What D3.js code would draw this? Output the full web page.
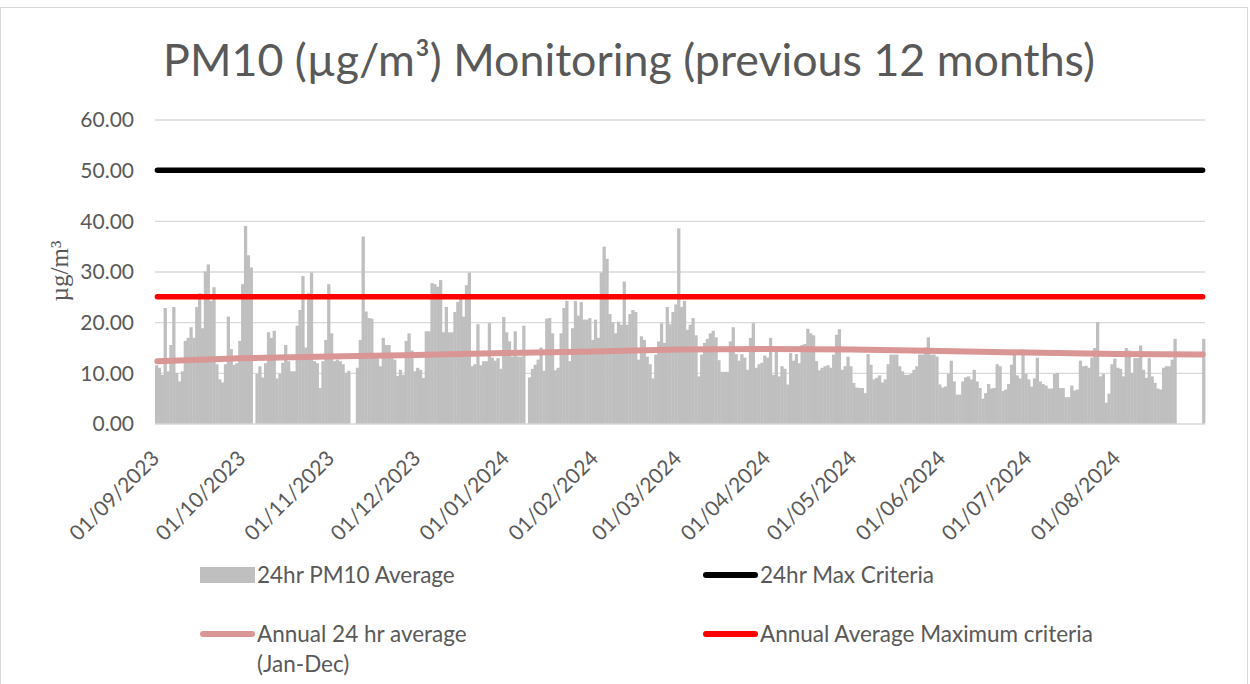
<!DOCTYPE html>
<html>
<head>
<meta charset="utf-8">
<script src="https://cdn.jsdelivr.net/npm/d3@7"></script>
<style>
  body { margin: 0; background: #fff; }
  svg { display: block; font-family: Lato, "Open Sans", sans-serif; }
  .grid line { stroke: #d9d9d9; stroke-width: 1.3; }
  .axis text { fill: #595959; font-size: 21px; font-family: Lato, sans-serif; }
  .legend text { fill: #595959; font-size: 22.5px; }
</style>
</head>
<body>
<div id="chart"></div>
<script>
// daily 24hr PM10 averages, one array per month (null = no reading)
var pm10Sep2023 = [11.5, 11.0, 9.6, 22.8, 10.3, 15.5, 23.0, 10.0, 8.3, 10.3,
  16.3, 16.9, 19.0, 16.9, 23.0, 25.7, 18.8, 30.0, 31.4, 24.2,
  26.9, 11.7, 8.7, 8.1, 11.7, 21.1, 14.7, 11.6, 11.9, 16.3];
var pm10Oct2023 = [27.5, 39.0, 33.2, 30.8, null, 9.8, 11.3, 9.1, 11.9, 18.0,
  16.9, 18.3, 8.9, 9.8, 12.0, 15.5, 12.3, 10.3, 10.3, 19.3,
  22.4, 29.1, 15.0, 25.7, 29.8, 12.3, 11.9, 7.0, 12.3, 16.5, 27.5];
var pm10Nov2023 = [17.8, 12.3, 12.6, 12.3, 11.7, 10.0, 10.4, null, null, 11.0,
  16.5, 36.9, 22.1, 20.8, 20.7, 13.6, 12.9, 11.3, 16.9, 15.5,
  15.5, 12.9, 12.6, 9.4, 10.6, 9.6, 16.3, 17.8, 14.4, 10.3];
var pm10Dec2023 = [11.0, 10.6, 9.0, 18.2, 18.2, 27.7, 27.5, 27.0, 28.3, 18.0,
  23.0, 18.0, 18.0, 22.0, 24.0, 25.5, 21.1, 27.3, 29.8, 11.3,
  11.7, 19.6, 11.5, 12.3, 12.3, 19.8, 13.0, 12.4, 12.9, 10.8, 21.0];
var pm10Jan2024 = [18.0, 16.2, 13.2, 18.2, 13.2, 13.2, 19.3, null, 9.1, 10.8,
  11.6, 12.6, 15.0, 10.4, 20.7, 20.8, 17.8, 10.5, 11.0, 17.8,
  22.8, 24.2, 12.3, 18.8, 24.2, 21.3, 24.0, 20.5, 20.5, 20.8, 16.5];
var pm10Feb2024 = [20.5, 16.9, 29.8, 34.9, 32.5, 21.6, 20.0, 17.8, 20.1, 19.5,
  28.0, 19.5, 21.6, 22.4, 22.0, 12.6, 17.2, 16.5, 13.2, 11.7,
  8.9, 13.6, 16.2, 19.8, 15.9, 23.0, 19.6, 22.0, 23.5];
var pm10Mar2024 = [38.5, 23.0, 24.2, 18.5, 19.5, 20.8, 17.4, 9.3, 13.6, 15.9,
  16.7, 17.8, 18.3, 17.0, 12.5, 10.2, 10.2, 10.2, 16.2, 19.0,
  13.7, 12.4, 13.7, 13.0, 10.6, 16.9, 19.8, 11.0, 11.7, 12.0, 13.4];
var pm10Apr2024 = [13.0, 16.9, 9.6, 15.0, 9.3, 11.3, 10.8, 7.7, 13.9, 12.4,
  13.7, 11.9, 15.5, 15.7, 18.7, 17.8, 17.4, 12.3, 10.5, 11.0,
  11.3, 11.5, 11.0, 13.6, 17.5, 18.6, 10.6, 11.3, 13.2, 11.3];
var pm10May2024 = [8.0, 7.1, 7.0, 7.0, 6.0, 13.7, 11.6, 8.7, 9.0, 9.5,
  8.1, 8.7, 11.7, 13.6, 13.6, 13.6, 11.3, 10.3, 9.6, 9.6,
  9.8, 10.6, 11.3, 13.6, 13.6, 15.0, 17.0, 13.6, 13.6, 13.2, 7.7];
var pm10Jun2024 = [7.1, 7.3, 9.8, 12.4, 8.3, 5.7, 5.7, 8.3, 9.1, 9.3,
  8.7, 10.6, 8.3, 7.0, 4.9, 6.0, 7.8, 6.9, 7.0, 11.7,
  11.3, 6.4, 6.7, 7.8, 11.6, 14.6, 9.5, 8.9, 14.6, 9.8];
var pm10Jul2024 = [8.7, 7.3, 8.9, 13.0, 8.3, 7.8, 7.5, 6.9, 6.9, 9.8,
  10.0, 7.0, 7.0, 5.2, 5.2, 7.5, 6.5, 6.7, 12.4, 11.3,
  11.4, 11.0, 13.0, 14.9, 20.0, 9.3, 9.8, 4.1, 5.9, 11.7, 12.8];
var pm10Aug2024 = [11.0, 10.8, 9.3, 14.9, 14.4, 10.0, 12.9, 12.9, 15.4, 10.6,
  9.0, 12.9, 9.3, 8.0, 6.9, 6.7, 11.0, 11.3, 11.3, 12.6,
  16.7, null, null, null, null, null, null, null, null, null, 16.7];

// annual 24 hr average (Jan-Dec), read at each month start
var annualAvgDates = ["2023-09-01", "2023-10-01", "2023-11-01", "2023-12-01", "2024-01-01",
  "2024-02-01", "2024-03-01", "2024-04-01", "2024-05-01", "2024-06-01", "2024-07-01",
  "2024-08-01", "2024-09-01"];
var annualAvgValues = [12.3, 12.9, 13.2, 13.5, 13.9, 14.2, 14.6, 14.7, 14.6, 14.3, 14.0, 13.7, 13.6];

var maxCriteria24hr = 50;
var annualAvgCriteria = 25;
var yTicks = [0, 10, 20, 30, 40, 50, 60];

var startDate = new Date(2023, 8, 1);
var endDate = new Date(2024, 8, 1);

var pm10Values = [].concat(pm10Sep2023, pm10Oct2023, pm10Nov2023, pm10Dec2023,
  pm10Jan2024, pm10Feb2024, pm10Mar2024, pm10Apr2024, pm10May2024,
  pm10Jun2024, pm10Jul2024, pm10Aug2024);
var daily = pm10Values.map(function (v, i) {
  return {date: d3.timeDay.offset(startDate, i), value: v};
});
var parseDate = d3.timeParse("%Y-%m-%d");
var annualAvg = annualAvgDates.map(function (d, i) {
  return {date: parseDate(d), value: annualAvgValues[i]};
});

var W = 1250, H = 684;
var plot = {left: 155, right: 1205, top: 119.5, bottom: 423.5};

var svg = d3.select("#chart").append("svg")
  .attr("width", W)
  .attr("height", H);

svg.append("rect")
  .attr("x", 0.5).attr("y", 7.5)
  .attr("width", 1247).attr("height", 700)
  .attr("fill", "#fff")
  .attr("stroke", "#d9d9d9");

var x = d3.scaleTime()
  .domain([startDate, endDate])
  .range([plot.left, plot.right]);
var y = d3.scaleLinear()
  .domain([0, 60])
  .range([plot.bottom, plot.top]);

// gridlines
svg.append("g")
  .attr("class", "grid")
  .attr("transform", "translate(" + plot.left + ",0)")
  .call(d3.axisLeft(y).tickValues(yTicks).tickSize(-(plot.right - plot.left)).tickFormat(""))
  .call(function (g) { g.select(".domain").remove(); });

// daily bars (slight overlap to avoid seams)
svg.append("g")
  .selectAll("rect")
  .data(daily.filter(function (d) { return d.value !== null; }))
  .enter().append("rect")
    .attr("x", function (d) { return x(d.date); })
    .attr("width", function (d) { return x(d3.timeDay.offset(d.date, 1)) - x(d.date) + 0.4; })
    .attr("y", function (d) { return y(d.value); })
    .attr("height", function (d) { return y(0) - y(d.value); })
    .attr("fill", "#bfbfbf");

// y axis labels
svg.append("g")
  .attr("class", "axis")
  .attr("transform", "translate(" + plot.left + ",0)")
  .call(d3.axisLeft(y).tickValues(yTicks).tickSize(0).tickPadding(21).tickFormat(d3.format(".2f")))
  .call(function (g) { g.select(".domain").remove(); })
  .selectAll("text").attr("dy", "0.35em");

// x axis labels
var monthTicks = d3.timeMonth.range(startDate, d3.timeDay.offset(endDate, -1));
svg.append("g")
  .attr("class", "axis")
  .attr("transform", "translate(0," + plot.bottom + ")")
  .call(d3.axisBottom(x).tickValues(monthTicks).tickSize(0).tickFormat(d3.timeFormat("%d/%m/%Y")))
  .call(function (g) { g.select(".domain").remove(); })
  .selectAll("text")
    .attr("y", 0).attr("x", 0).attr("dy", "0.35em")
    .attr("text-anchor", "end")
    .attr("transform", "translate(0,31) rotate(-45)");

// criteria and annual average lines
var line = d3.line()
  .x(function (d) { return x(d.date); })
  .y(function (d) { return y(d.value); });

function flatLine(v) {
  return [{date: d3.timeHour.offset(startDate, 20), value: v},
          {date: d3.timeHour.offset(endDate, -20), value: v}];
}

svg.append("path")
  .datum(annualAvg.map(function (d, i) {
    if (i === 0) { return {date: d3.timeHour.offset(d.date, 20), value: d.value}; }
    if (i === annualAvg.length - 1) { return {date: d3.timeHour.offset(d.date, -20), value: d.value}; }
    return d;
  }))
  .attr("d", line)
  .attr("fill", "none")
  .attr("stroke", "#da9694")
  .attr("stroke-width", 6)
  .attr("stroke-linecap", "round");

svg.append("path")
  .datum(flatLine(maxCriteria24hr))
  .attr("d", line)
  .attr("fill", "none")
  .attr("stroke", "#000")
  .attr("stroke-width", 5.5)
  .attr("stroke-linecap", "round");

svg.append("path")
  .datum(flatLine(annualAvgCriteria))
  .attr("d", line)
  .attr("fill", "none")
  .attr("stroke", "#ff0000")
  .attr("stroke-width", 5.5)
  .attr("stroke-linecap", "round");

// title
var title = svg.append("text")
  .attr("x", 629)
  .attr("y", 76)
  .attr("text-anchor", "middle")
  .attr("fill", "#595959")
  .style("font-size", "44px")
  .text("PM10 (\u00b5g/m\u00b3) Monitoring (previous 12 months)");
var tw = title.node().getComputedTextLength();
title.style("font-size", (44 * 932 / tw) + "px");

// y axis title
svg.append("text")
  .attr("transform", "translate(68,271) rotate(-90)")
  .attr("text-anchor", "middle")
  .attr("fill", "#595959")
  .style("font-family", "'Liberation Serif', 'DejaVu Serif', serif")
  .style("font-size", "25px")
  .text("\u00b5g/m\u00b3");

// legend
var legend = svg.append("g").attr("class", "legend");
legend.append("rect")
  .attr("x", 200).attr("y", 567)
  .attr("width", 55).attr("height", 16)
  .attr("fill", "#bfbfbf");
var legendLines = [
  {x: 703, y: 575, color: "#000", label: ["24hr Max Criteria"]},
  {x: 200, y: 634, color: "#da9694", label: ["Annual 24 hr average", "(Jan-Dec)"]},
  {x: 703, y: 634, color: "#ff0000", label: ["Annual Average Maximum criteria"]}
];
legendLines.forEach(function (d) {
  legend.append("line")
    .attr("x1", d.x + 3).attr("x2", d.x + 52)
    .attr("y1", d.y).attr("y2", d.y)
    .attr("stroke", d.color)
    .attr("stroke-width", 6)
    .attr("stroke-linecap", "round");
  d.label.forEach(function (t, i) {
    legend.append("text")
      .attr("x", d.x + 57)
      .attr("y", d.y + i * 30)
      .attr("dy", "0.35em")
      .text(t);
  });
});
legend.append("text")
  .attr("x", 257).attr("y", 575)
  .attr("dy", "0.35em")
  .text("24hr PM10 Average");
</script>
</body>
</html>
